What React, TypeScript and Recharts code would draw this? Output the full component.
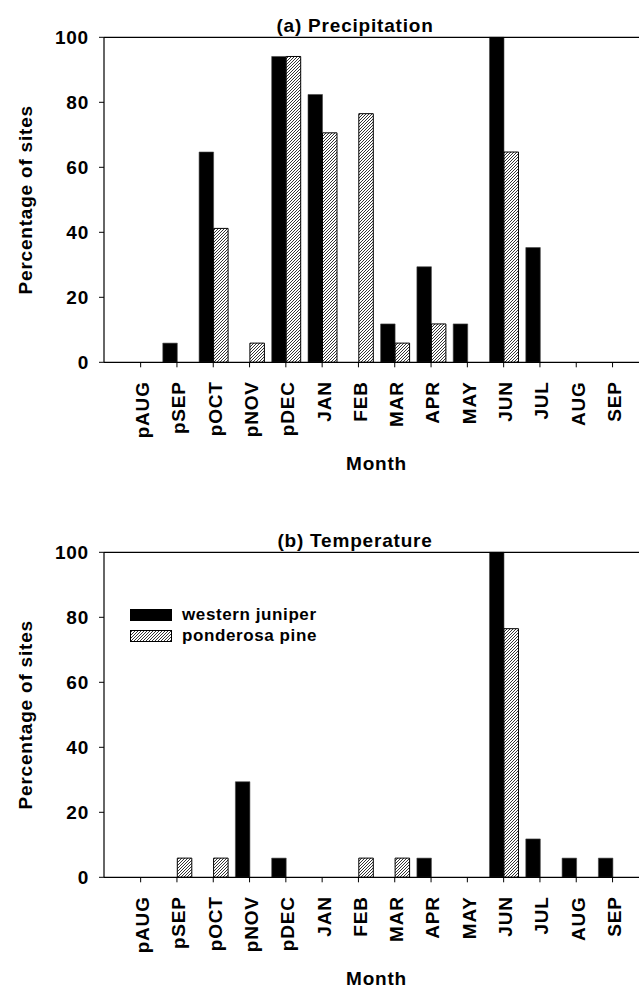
import React from "react";
import {
  BarChart,
  Bar,
  XAxis,
  YAxis,
  Legend,
  ReferenceLine,
} from "recharts";

const months = ["pAUG", "pSEP", "pOCT", "pNOV", "pDEC", "JAN", "FEB", "MAR", "APR", "MAY", "JUN", "JUL", "AUG", "SEP"];
const yTicks = [0, 20, 40, 60, 80, 100];

// percentage of sites with a significant response, per month
const precipJuniper = [0, 5.9, 64.7, 0, 94.1, 82.4, 0, 11.8, 29.4, 11.8, 100, 35.3, 0, 0];
const precipPine = [0, 0, 41.2, 5.9, 94.1, 70.6, 76.5, 5.9, 11.8, 0, 64.7, 0, 0, 0];
const tempJuniper = [0, 0, 0, 29.4, 5.9, 0, 0, 0, 5.9, 0, 100, 11.8, 5.9, 5.9];
const tempPine = [0, 5.9, 5.9, 0, 0, 0, 5.9, 5.9, 0, 0, 76.5, 0, 0, 0];

const seriesNames = ["western juniper", "ponderosa pine"];

const FONT = "'Liberation Sans', Arial, Helvetica, sans-serif";
const PLOT_H = 325;

const precipData = months.map((m, i) => ({ month: m, juniper: precipJuniper[i], pine: precipPine[i] }));
const tempData = months.map((m, i) => ({ month: m, juniper: tempJuniper[i], pine: tempPine[i] }));

const textStyle = { fontFamily: FONT, fontWeight: 700, fontSize: 19, letterSpacing: 0.8, fill: "#000" };

function Hatch({ id }: { id: string }) {
  return (
    <pattern id={id} patternUnits="userSpaceOnUse" width={3} height={3}>
      <rect width={3} height={3} fill="#fff" />
      <path d="M-0.75,0.75 l1.5,-1.5 M0,3 l3,-3 M2.25,3.75 l1.5,-1.5" stroke="#000" strokeWidth={0.8} />
    </pattern>
  );
}

const MonthTick = (props: any) => {
  const { x, y, payload } = props;
  const bx = x + 8.4;
  const by = y + 12;
  return (
    <text x={bx} y={by} textAnchor="end" transform={`rotate(-90, ${bx}, ${by})`} style={textStyle}>
      {payload.value}
    </text>
  );
};

const YTitle = (props: any) => {
  const vb = props.viewBox;
  const cx = vb.x + 32;
  const cy = vb.y + vb.height / 2;
  return (
    <text x={cx} y={cy} textAnchor="middle" transform={`rotate(-90, ${cx}, ${cy})`} style={textStyle}>
      Percentage of sites
    </text>
  );
};

const XTitle = (props: any) => {
  const vb = props.viewBox;
  return (
    <text x={vb.x + 272.5} y={vb.y + 108} textAnchor="middle" style={textStyle}>
      Month
    </text>
  );
};

const renderLegend = () => (
  <div style={{ fontFamily: FONT, fontWeight: 700, fontSize: 17, letterSpacing: 0.6, color: "#000" }}>
    {seriesNames.map((name, i) => (
      <div key={name} style={{ display: "flex", alignItems: "center", height: 20.5 }}>
        <svg width={42} height={12} style={{ display: "block" }}>
          <defs>
            <Hatch id="hatchLegend" />
          </defs>
          <rect
            x={0.5}
            y={0.5}
            width={41}
            height={11}
            fill={i === 0 ? "#000" : "url(#hatchLegend)"}
            stroke="#000"
            strokeWidth={1}
          />
        </svg>
        <span style={{ marginLeft: 10, lineHeight: "20px" }}>{name}</span>
      </div>
    ))}
  </div>
);

function Panel({ data, top, hatchId, legend }: { data: any[]; top: number; hatchId: string; legend?: boolean }) {
  return (
    <BarChart
      width={720}
      height={top + PLOT_H + 120}
      data={data}
      margin={{ top, right: 0, bottom: 0, left: 0 }}
      barGap={0}
    >
      <defs>
        <Hatch id={hatchId} />
      </defs>
      <XAxis
        dataKey="month"
        height={120}
        padding={{ left: 18.5, right: 89.3 }}
        axisLine={{ stroke: "#000", strokeWidth: 1.2 }}
        tickLine={{ stroke: "#000", strokeWidth: 1 }}
        tickSize={5}
        interval={0}
        tick={<MonthTick />}
        label={<XTitle />}
      />
      <YAxis
        width={104}
        domain={[0, 100]}
        ticks={yTicks}
        axisLine={{ stroke: "#000", strokeWidth: 1.2 }}
        tickLine={{ stroke: "#000", strokeWidth: 1 }}
        tickSize={5}
        tickMargin={10}
        tick={textStyle}
        label={<YTitle />}
      />
      <ReferenceLine y={100} stroke="#000" strokeWidth={1.2} />
      {legend && (
        <Legend
          layout="vertical"
          align="center"
          verticalAlign="middle"
          content={renderLegend}
          wrapperStyle={{ position: "absolute", left: 130, top: 104.75, width: "auto" }}
        />
      )}
      <Bar
        dataKey="juniper"
        name={seriesNames[0]}
        fill="#000"
        stroke="#444"
        strokeWidth={0.6}
        barSize={14.5}
        isAnimationActive={false}
      />
      <Bar
        dataKey="pine"
        name={seriesNames[1]}
        fill={`url(#${hatchId})`}
        stroke="#000"
        strokeWidth={1}
        barSize={14.5}
        isAnimationActive={false}
      />
    </BarChart>
  );
}

export default function App() {
  return (
    <div
      style={{
        position: "absolute",
        left: 0,
        top: 0,
        width: 639,
        height: 989,
        overflow: "hidden",
        background: "#fff",
      }}
    >
      <div style={{ position: "absolute", left: 0, top: 0 }}>
        <Panel data={precipData} top={37.3} hatchId="hatchA" />
      </div>
      <div style={{ position: "absolute", left: 0, top: 500 }}>
        <Panel data={tempData} top={52.3} hatchId="hatchB" legend />
      </div>
      <svg width={639} height={989} style={{ position: "absolute", left: 0, top: 0, pointerEvents: "none" }}>
        <text x={355} y={31.7} textAnchor="middle" style={textStyle}>
          (a) Precipitation
        </text>
        <text x={355} y={546.7} textAnchor="middle" style={textStyle}>
          (b) Temperature
        </text>
      </svg>
    </div>
  );
}
